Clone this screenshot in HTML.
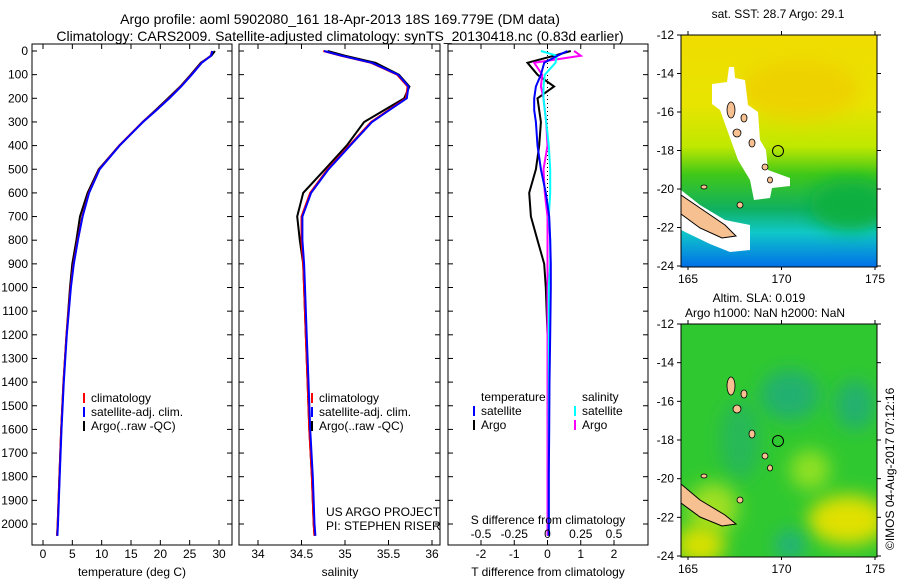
<!DOCTYPE html>
<html><head><meta charset="utf-8">
<style>
body{margin:0;background:#fff;}
svg{display:block;font-family:"Liberation Sans",sans-serif;}
</style></head>
<body>
<svg id="fig" width="900" height="580" viewBox="0 0 900 580">
<defs>
<linearGradient id="sst" x1="0" y1="0" x2="0" y2="1">
<stop offset="0" stop-color="#f0dc00"/><stop offset="0.3" stop-color="#e8e400"/>
<stop offset="0.48" stop-color="#c0e800"/><stop offset="0.6" stop-color="#40c818"/>
<stop offset="0.75" stop-color="#10b060"/><stop offset="0.85" stop-color="#10c8c8"/>
<stop offset="1" stop-color="#0070e8"/></linearGradient>
<filter id="blur" x="-50%" y="-50%" width="200%" height="200%"><feGaussianBlur stdDeviation="9"/></filter>
<clipPath id="c1"><rect x="681" y="35" width="196" height="232"/></clipPath>
<clipPath id="c2"><rect x="681" y="324" width="196" height="233"/></clipPath>
</defs>
<g font-size="14" fill="#000" text-anchor="middle">
<text x="340" y="24">Argo profile: aoml 5902080_161 18-Apr-2013 18S 169.779E (DM data)</text>
<text x="340" y="41">Climatology: CARS2009. Satellite-adjusted climatology: synTS_20130418.nc (0.83d earlier)</text>
</g>
<g id="plots"></g>

<!-- map 1 -->
<g>
<g clip-path="url(#c1)">
<rect x="681" y="35" width="196" height="232" fill="url(#sst)"/>
<ellipse cx="800" cy="90" rx="60" ry="30" fill="#f0c800" filter="url(#blur)" opacity="0.6"/>
<ellipse cx="850" cy="205" rx="40" ry="25" fill="#10b040" filter="url(#blur)"/>
<polygon points="729,67 734,67 735,78 745,80 748,105 758,112 760,140 766,150 768,170 790,178 790,186 772,188 770,198 754,200 750,180 738,160 720,110 712,104 712,84 727,82" fill="#fff"/>
<polygon points="681,190 700,205 725,220 750,225 750,250 730,252 710,244 681,230" fill="#fff"/>
<polygon points="681,195 700,208 725,225 736,236 722,238 700,228 681,214" fill="#f6c090" stroke="#000" stroke-width="1"/>
<g fill="#f6c090" stroke="#000" stroke-width="0.8">
<ellipse cx="731" cy="110" rx="4" ry="8"/><ellipse cx="737" cy="133" rx="4" ry="4"/>
<ellipse cx="744" cy="118" rx="3" ry="4"/><ellipse cx="752" cy="143" rx="3" ry="4"/>
<ellipse cx="765" cy="167" rx="3" ry="3"/><ellipse cx="770" cy="180" rx="2.5" ry="3"/>
<ellipse cx="704" cy="187" rx="3" ry="2"/><ellipse cx="740" cy="205" rx="3" ry="3"/>
</g>
<circle cx="778" cy="151" r="5.5" fill="none" stroke="#000"/>
</g>
<rect x="681" y="35" width="196" height="232" fill="none" stroke="#000"/>
<text x="778" y="18" font-size="12" text-anchor="middle">sat. SST: 28.7 Argo: 29.1</text>
</g>

<!-- map 2 -->
<g>
<g clip-path="url(#c2)">
<rect x="681" y="324" width="196" height="233" fill="#30c830"/>
<ellipse cx="790" cy="395" rx="30" ry="25" fill="#20b070" filter="url(#blur)"/>
<ellipse cx="855" cy="405" rx="20" ry="25" fill="#20b070" filter="url(#blur)"/>
<ellipse cx="740" cy="440" rx="20" ry="40" fill="#28b858" filter="url(#blur)"/>
<ellipse cx="810" cy="470" rx="20" ry="20" fill="#90e020" filter="url(#blur)"/>
<ellipse cx="713" cy="508" rx="25" ry="25" fill="#a0e020" filter="url(#blur)"/>
<ellipse cx="848" cy="520" rx="40" ry="25" fill="#e0e000" filter="url(#blur)"/>
<ellipse cx="700" cy="545" rx="25" ry="20" fill="#d8e000" filter="url(#blur)"/>
<ellipse cx="790" cy="545" rx="15" ry="15" fill="#20b080" filter="url(#blur)"/>
<polygon points="681,484 700,500 725,515 736,524 722,526 700,517 681,503" fill="#f6c090" stroke="#000"/>
<g fill="#f6c090" stroke="#000" stroke-width="0.8">
<ellipse cx="731" cy="386" rx="4" ry="9"/><ellipse cx="737" cy="409" rx="4" ry="4"/>
<ellipse cx="744" cy="394" rx="3" ry="4"/><ellipse cx="752" cy="434" rx="3" ry="4"/>
<ellipse cx="765" cy="456" rx="3" ry="3"/><ellipse cx="770" cy="468" rx="2.5" ry="3"/>
<ellipse cx="704" cy="476" rx="3" ry="2"/><ellipse cx="740" cy="500" rx="3" ry="3"/>
</g>
<circle cx="778" cy="441" r="5.5" fill="none" stroke="#000"/>
</g>
<rect x="681" y="324" width="196" height="233" fill="none" stroke="#000"/>
<text x="759" y="302" font-size="12" text-anchor="middle">Altim. SLA: 0.019</text>
<text x="765" y="317" font-size="12" text-anchor="middle">Argo h1000: NaN h2000: NaN</text>
</g>
<text transform="translate(894,550) rotate(-90)" font-size="12">©IMOS 04-Aug-2017 07:12:16</text>
</svg>
<script>
const depths=[0,20,50,100,150,200,250,300,400,500,600,700,800,900,1000,1200,1400,1600,1800,2000,2050];
const tempClim=[28.8,28.6,27,25.3,23.5,21.5,19.3,17,13,9.6,7.8,6.7,5.9,5.2,4.7,4,3.5,3.1,2.8,2.5,2.4];
const tempArgo=[29.3,28.7,26.9,25.2,23.4,21.3,19.2,17,13,9.5,7.6,6.3,5.7,5.0,4.6,4,3.5,3.1,2.8,2.5,2.4];
const salClim=[34.75,34.95,35.3,35.6,35.72,35.7,35.5,35.3,35.05,34.8,34.6,34.5,34.5,34.52,34.53,34.55,34.57,34.59,34.62,34.64,34.65];
const salArgo=[34.8,35.0,35.35,35.62,35.74,35.68,35.45,35.22,35.02,34.77,34.52,34.45,34.48,34.52,34.53,34.55,34.57,34.59,34.62,34.64,34.65];
const tDiffSat=[0.6,0.3,-0.1,-0.2,-0.35,-0.4,-0.4,-0.35,-0.3,-0.2,-0.05,0.05,0.08,0.1,0.1,0.08,0.06,0.05,0.04,0.04,0.04];
const tDiffArgo=[0.7,0.2,-0.6,-0.3,0.2,-0.3,-0.25,-0.2,-0.25,-0.35,-0.55,-0.5,-0.3,-0.1,-0.05,0,0.02,0.02,0.03,0.03,0.03];
const sDiffSat=[-0.05,0.07,0.06,-0.02,-0.03,-0.03,-0.02,-0.01,0.01,0.02,0.02,0.01,0.02,0.02,0.01,0.01,0.01,0.01,0.01,0.01,0.01];
const sDiffArgo=[0.2,0.25,-0.1,-0.04,-0.05,-0.03,-0.02,-0.01,0,-0.03,-0.02,0,0,0,0,0,0,0,0,0,0];
const depthTicks=[0,100,200,300,400,500,600,700,800,900,1000,1100,1200,1300,1400,1500,1600,1700,1800,1900,2000];
const tempTicks=[0,5,10,15,20,25,30];
const salTicks=[34,34.5,35,35.5,36];
const tdTicks=[-2,-1,0,1,2];
const sdTicks=[-0.5,-0.25,0,0.25,0.5];
const mapLonTicks=[165,170,175];
const mapLatTicks=[-12,-14,-16,-18,-20,-22,-24];

const NS='http://www.w3.org/2000/svg';
const root=document.getElementById('plots');
function mk(tag,attrs,parent,text){const e=document.createElementNS(NS,tag);for(const k in attrs)e.setAttribute(k,attrs[k]);if(text!==undefined)e.textContent=text;(parent||root).appendChild(e);return e;}
const TOP=44,BOT=545;
const yD=d=>51+d*0.2365;
function scale(d0,p0,d1,p1){return v=>p0+(v-d0)*(p1-p0)/(d1-d0);}
const xT=scale(0,43,30,219), xS=scale(34,258,36,432), xTD=scale(-2,481,2,614), xSD=scale(-0.5,481,0.5,614);

function frame(x0,x1,name){
  const g=mk('g',{});
  
  
  mk('rect',{x:x0,y:TOP,width:x1-x0,height:BOT-TOP,fill:'none',stroke:'#000'},g);
  depthTicks.forEach(d=>{mk('line',{x1:x0,x2:x0+5,y1:yD(d),y2:yD(d),stroke:'#000'},g);mk('line',{x1:x1,x2:x1-5,y1:yD(d),y2:yD(d),stroke:'#000'},g);});
  return g;
}
function xticks(g,ticks,sc,y,labels){
  ticks.forEach(t=>{const x=sc(t);mk('line',{x1:x,x2:x,y1:BOT,y2:BOT-5,stroke:'#000'},g);mk('line',{x1:x,x2:x,y1:TOP,y2:TOP+5,stroke:'#000'},g);
    const tx=mk('text',{x:x,y:y,'font-size':12,'text-anchor':'middle'},g,labels?labels(t):String(t));
    
    });
}
function line(g,xs,sc,color,w,name,dash){
  const p=xs.map((v,i)=>(i?'L':'M')+sc(v).toFixed(1)+','+yD(depths[i]).toFixed(1)).join('');
  const e=mk('path',{d:p,fill:'none',stroke:color,'stroke-width':w},g);
  if(dash)e.setAttribute('stroke-dasharray',dash);
  
  
}
const yl=mk('g',{'font-size':12,'text-anchor':'end'});


depthTicks.forEach(d=>mk('text',{x:28,y:yD(d)+4},yl,String(d)));

function legend(g,x,y){
  [['#f00','climatology'],['#00f','satellite-adj. clim.'],['#000','Argo(..raw -QC)']].forEach((l,i)=>{
    mk('rect',{x:x,y:y+i*14-9,width:2,height:10,fill:l[0]},g);
    const t=mk('text',{x:x+8,y:y+i*14,'font-size':12},g,l[1]);
    
    
  });
}
let g=frame(32,232,'temperature-panel');
xticks(g,tempTicks,xT,558);
line(g,tempArgo,xT,'#000',2,'temp-argo-line');
line(g,tempClim,xT,'#f00',2,'temp-clim-line');
line(g,tempClim.map(v=>v+0.05),xT,'#00f',2,'temp-sat-line');
mk('text',{x:132,y:576,'font-size':12,'text-anchor':'middle'},g,'temperature (deg C)');
legend(g,83,402);
g=frame(239,440,'salinity-panel');
xticks(g,salTicks,xS,558);
line(g,salArgo,xS,'#000',2,'sal-argo-line');
line(g,salClim,xS,'#f00',2,'sal-clim-line');
line(g,salClim.map(v=>v+0.01),xS,'#00f',2,'sal-sat-line');
mk('text',{x:340,y:576,'font-size':12,'text-anchor':'middle'},g,'salinity');
legend(g,311,402);
mk('text',{x:326,y:516,'font-size':12},g,'US ARGO PROJECT');
mk('text',{x:326,y:530,'font-size':12},g,'PI: STEPHEN RISER');
g=frame(448,648,'difference-panel');
xticks(g,tdTicks,xTD,558);
line(g,depths.map(()=>0),xTD,'#000',1,'zero-line','1,3');
line(g,tDiffArgo,xTD,'#000',2,'tdiff-argo-line');
line(g,sDiffArgo,xSD,'#f0f',2,'sdiff-argo-line');
line(g,sDiffSat,xSD,'#0ff',2,'sdiff-sat-line');
line(g,tDiffSat,xTD,'#00f',2,'tdiff-sat-line');
sdTicks.forEach(t=>{const tx=mk('text',{x:xSD(t),y:538,'font-size':12,'text-anchor':'middle'},g,String(t));
  
  });
mk('text',{x:548,y:524,'font-size':12,'text-anchor':'middle'},g,'S difference from climatology');
mk('text',{x:548,y:576,'font-size':12,'text-anchor':'middle'},g,'T difference from climatology');
mk('text',{x:481,y:401,'font-size':12},g,'temperature');
mk('text',{x:582,y:401,'font-size':12},g,'salinity');
[['#00f','satellite',473,415],['#000','Argo',473,429],['#0ff','satellite',574,415],['#f0f','Argo',574,429]].forEach(l=>{
  mk('rect',{x:l[2],y:l[3]-9,width:2,height:10,fill:l[0]},g);
  const t=mk('text',{x:l[2]+8,y:l[3],'font-size':12},g,l[1]);
  
  
});
function mapAxes(y0,y1){
  const a=mk('g',{'font-size':12});
  
  
  const lx=scale(165,688,175,875), ly=scale(-12,y0,-24,y1);
  mapLonTicks.forEach(l=>{const x=lx(l);mk('line',{x1:x,x2:x,y1:y1,y2:y1+4,stroke:'#000'},a);mk('line',{x1:x,x2:x,y1:y0,y2:y0-4,stroke:'#000'},a);mk('text',{x:x,y:y1+17,'text-anchor':'middle'},a,String(l));});
  mapLatTicks.forEach(l=>{const y=ly(l);mk('line',{x1:681,x2:677,y1:y,y2:y,stroke:'#000'},a);mk('line',{x1:877,x2:881,y1:y,y2:y,stroke:'#000'},a);mk('text',{x:674,y:y+4,'text-anchor':'end'},a,String(l));});
}
mapAxes(35,266);
mapAxes(324,556);
</script>
</body></html>
